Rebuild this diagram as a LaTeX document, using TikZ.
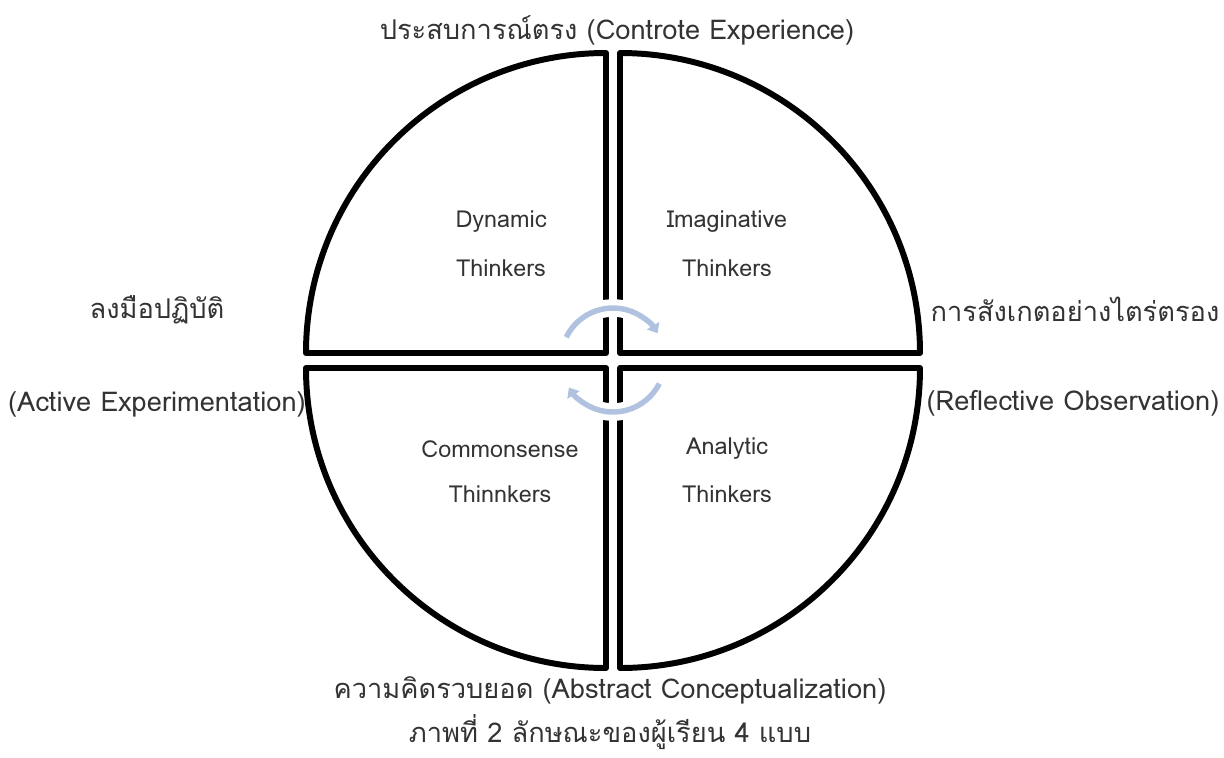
\documentclass[tikz,border=0pt]{standalone}
\usepackage{fontspec}
\setmainfont[Script=Thai]{Loma}
\usetikzlibrary{arrows.meta}
\definecolor{cyclecol}{RGB}{176,194,224}
\begin{document}
\begin{tikzpicture}[
quarter/.style = {draw=black, line width=3.4pt, line join=round},
thinker/.style = {font=\fontsize{13.3}{15}\selectfont, text=black!80},
side/.style = {font=\fontsize{15.5}{18}\selectfont, text=black!80, inner sep=1pt},
cycle arrow/.style = {draw=cyclecol, line width=3.1pt, -{Triangle[length=5pt,width=8pt]}},
]
\useasboundingbox (-12.26,-7.94) rectangle (12.22,7.2);

\draw[quarter] (-0.14,0.14) -- ++(0,6) arc (90:180:6) -- cycle;
\draw[quarter] (0.14,0.14) -- ++(6,0) arc (0:90:6) -- cycle;
\draw[quarter] (-0.14,-0.16) -- ++(-6,0) arc (180:270:6) -- cycle;
\draw[quarter] (0.14,-0.16) -- ++(0,-6) arc (270:360:6) -- cycle;

\draw[white, line width=10pt] (154:1.04) arc (154:31:1.04);
\draw[white, line width=10pt] (-27:1.04) arc (-27:-148:1.04);
\draw[cycle arrow] (154:1.04) arc (154:31:1.04);
\draw[cycle arrow] (-27:1.04) arc (-27:-148:1.04);

\node[thinker] (dyn1) at (-2.24,2.76) {Dynamic};
\node[thinker] (dyn2) at (-2.24,1.84) {Thinkers};
\node[thinker] (ima1) at (2.28,2.76) {Imaginative};
\node[thinker] (ima2) at (2.28,1.84) {Thinkers};
\node[thinker] (com1) at (-2.26,-1.78) {Commonsense};
\node[thinker] (com2) at (-2.26,-2.68) {Thinnkers};
\node[thinker] (ana1) at (2.28,-1.78) {Analytic};
\node[thinker] (ana2) at (2.28,-2.68) {Thinkers};

\node[side] (ce) at (0.08,6.6) {ประสบการณ์ตรง (Controte Experience)};
\node[side] (ae1) at (-9.12,1.0) {ลงมือปฏิบัติ};
\node[side] (ae2) at (-9.12,-0.88) {(Active Experimentation)};
\node[side] (ro1) at (9.24,1.02) {การสังเกตอย่างไตร่ตรอง};
\node[side] (ro2) at (9.2,-0.86) {(Reflective Observation)};
\node[side] (ac) at (-0.06,-6.6) {ความคิดรวบยอด (Abstract Conceptualization)};
\node[side] (cap) at (-0.06,-7.44) {ภาพที่ 2 ลักษณะของผู้เรียน 4 แบบ};

\end{tikzpicture}
\end{document}
